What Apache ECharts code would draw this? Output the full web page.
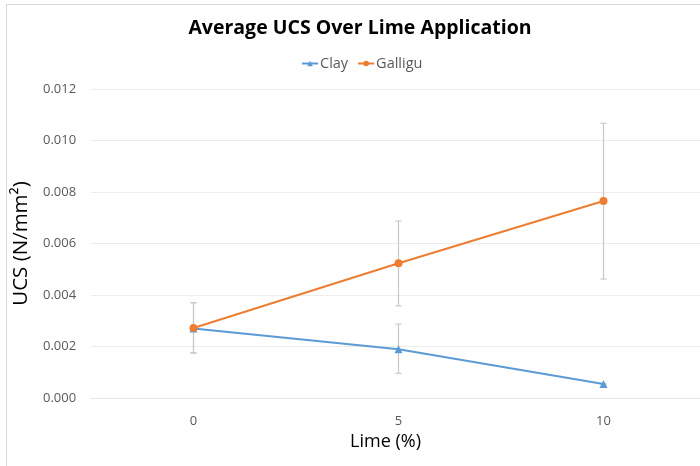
<!DOCTYPE html>
<html><head><meta charset="utf-8">
<script src="https://cdn.jsdelivr.net/npm/echarts@6/dist/echarts.min.js"></script>
<style>html,body{margin:0;padding:0;background:#fff}#c{width:700px;height:466px}</style>
</head><body><div id="c"></div>
<script>
const categories = ['0', '5', '10'];
const clay = [0.0027, 0.00189, 0.00054];
const galligu = [0.00272, 0.00523, 0.00765];
const clayErrLow = [0.00175, 0.00096, 0.00054];
const clayErrHigh = [0.0037, 0.00287, 0.00054];
const galliguErrLow = [0.00175, 0.00358, 0.00462];
const galliguErrHigh = [0.0037, 0.00687, 0.01067];
const yTicks = [0, 0.002, 0.004, 0.006, 0.008, 0.010, 0.012];

const chart = echarts.init(document.getElementById('c'));
const font = '"Open Sans", "Noto Sans", sans-serif';
function errSeries(low, high) {
  return {
    type: 'custom', silent: true, z: 1,
    data: low.map((l, i) => [i, l, high[i]]),
    renderItem: function (params, api) {
      const lo = api.coord([api.value(0), api.value(1)]);
      const hi = api.coord([api.value(0), api.value(2)]);
      const w = 3;
      const st = { stroke: '#c8c8c8', lineWidth: 1.2 };
      return { type: 'group', children: [
        { type: 'line', shape: { x1: lo[0], y1: lo[1], x2: hi[0], y2: hi[1] }, style: st },
        { type: 'line', shape: { x1: lo[0]-w, y1: lo[1], x2: lo[0]+w, y2: lo[1] }, style: st },
        { type: 'line', shape: { x1: hi[0]-w, y1: hi[1], x2: hi[0]+w, y2: hi[1] }, style: st }
      ]};
    }
  };
}
chart.setOption({
  animation: false,
  textStyle: { fontFamily: font },
  title: { text: 'Average UCS Over Lime Application', left: 355, textAlign: 'center', top: 13,
    textStyle: { fontSize: 19.5, fontWeight: 'bold', color: '#000', fontFamily: font } },
  legend: { top: 51, left: 296, itemWidth: 16, itemHeight: 7, itemGap: 9,
    textStyle: { fontSize: 14.5, color: '#595959', padding: [0, 0, 0, -3] },
    data: ['Clay', 'Galligu'] },
  grid: { left: 91, width: 615, top: 89, height: 309, containLabel: false, outerBoundsMode: 'none' },
  xAxis: { type: 'category', data: categories, boundaryGap: true,
    name: 'Lime (%)', nameLocation: 'middle', nameGap: 29,
    nameTextStyle: { fontSize: 18, color: '#000', padding: [0, 26, 0, 0] },
    axisLine: { show: true, lineStyle: { color: '#e6e6e6' } }, axisTick: { show: false },
    axisLabel: { fontSize: 13, color: '#595959', margin: 17 } },
  yAxis: { type: 'value', min: 0, max: 0.012, interval: 0.002,
    name: 'UCS (N/mm²)', nameLocation: 'middle', nameGap: 43,
    nameTextStyle: { fontSize: 20.5, color: '#000' },
    axisLine: { show: false }, axisTick: { show: false },
    splitLine: { lineStyle: { color: '#ececec' } },
    axisLabel: { fontSize: 13, color: '#595959', margin: 48, align: 'left',
      formatter: v => yTicks.includes(+v.toFixed(3)) ? v.toFixed(3) : '' } },
  series: [
    errSeries(clayErrLow, clayErrHigh),
    errSeries(galliguErrLow, galliguErrHigh),
    { name: 'Clay', type: 'line', data: clay, symbol: 'triangle', symbolSize: 8, z: 3,
      lineStyle: { color: '#5b9bd5', width: 2 }, itemStyle: { color: '#5b9bd5' } },
    { name: 'Galligu', type: 'line', data: galligu, symbol: 'circle', symbolSize: 8, z: 4,
      lineStyle: { color: '#ed7d31', width: 2 }, itemStyle: { color: '#ed7d31' } }
  ],
  graphic: [
    { type: 'line', shape: { x1: 6.5, y1: 4, x2: 6.5, y2: 466 }, style: { stroke: '#d9d9d9', lineWidth: 1 } },
    { type: 'line', shape: { x1: 6, y1: 4.5, x2: 700, y2: 4.5 }, style: { stroke: '#d9d9d9', lineWidth: 1 } }
  ]
});
</script></body></html>
